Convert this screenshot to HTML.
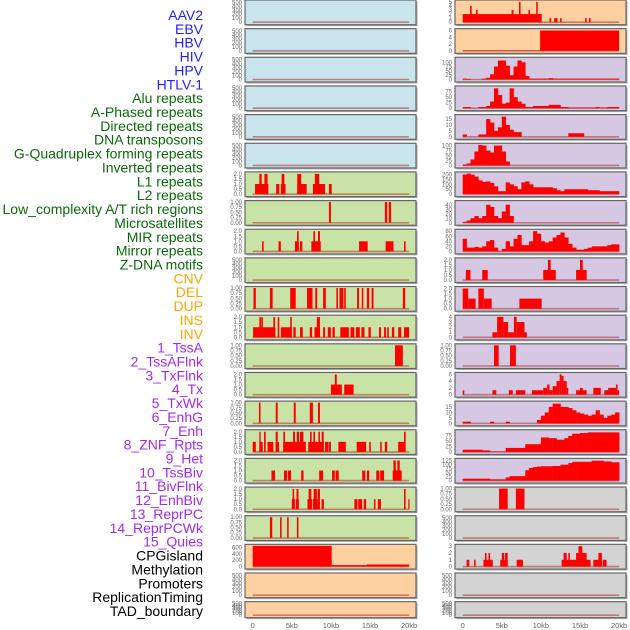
<!DOCTYPE html>
<html><head><meta charset="utf-8"><style>
html,body{margin:0;padding:0;background:#fff;width:630px;height:630px;overflow:hidden}
svg{display:block}
</style></head><body>
<svg id="chart" width="630" height="630" viewBox="0 0 630 630" xmlns="http://www.w3.org/2000/svg"></svg>
<script>
// ---------- labels ----------
const featureLabels = ["AAV2","EBV","HBV","HIV","HPV","HTLV-1","Alu repeats","A-Phased repeats","Directed repeats","DNA transposons","G-Quadruplex forming repeats","Inverted repeats","L1 repeats","L2 repeats","Low_complexity A/T rich regions","Microsatellites","MIR repeats","Mirror repeats","Z-DNA motifs","CNV","DEL","DUP","INS","INV","1_TssA","2_TssAFlnk","3_TxFlnk","4_Tx","5_TxWk","6_EnhG","7_Enh","8_ZNF_Rpts","9_Het","10_TssBiv","11_BivFlnk","12_EnhBiv","13_ReprPC","14_ReprPCWk","15_Quies","CPGisland","Methylation","Promoters","ReplicationTiming","TAD_boundary"];
const xTickValues = [0,5,10,15,20];
const xTickLabels = ["0","5kb","10kb","15kb","20kb"];
// tick sets
const ticks500 = [0,100,200,300,400,500];
const ticks2 = [0,0.5,1,1.5,2];
const ticks1 = [0,0.25,0.5,0.75,1];
// ---------- left column data: segments [startKb, endKb, value] ----------
const L6 = [[0.3,2.0,1],[0.85,1.15,2],[1.5,1.9,2],[3.0,3.4,1],[3.6,4.2,1],[3.7,4.05,2],[5.7,6.9,1],[5.7,6.2,2],[7.7,9.25,1],[7.95,8.5,2],[9.75,10.1,1]];
const L7 = [[9.75,10.0,1],[16.9,17.2,1],[17.4,17.7,1]];
const L8 = [[1.2,1.4,1],[3.3,3.6,1],[5.4,5.9,1],[6.05,6.35,1],[5.67,5.88,2],[7.5,8.0,1],[7.7,8.7,1],[7.76,7.97,2],[8.35,8.6,2],[13.6,14.7,1],[17.0,18.0,1],[19.35,19.55,1]];
const L10 = [[0.1,0.4,1],[2.2,2.55,1],[4.8,5.5,1],[6.95,7.65,1],[8.0,8.25,1],[9.0,9.35,1],[10.7,10.9,1],[11.1,11.6,1],[11.7,11.9,1],[13.35,13.6,1],[13.95,14.15,1],[14.6,14.9,1],[15.2,15.45,1],[19.2,19.5,1]];
const L11 = [[0.05,2.9,1],[3.6,5.0,1],[5.2,5.5,1],[6.05,6.4,1],[7.3,7.6,1],[7.9,8.6,1],[9.0,9.25,1],[9.6,10.0,1],[10.2,10.5,1],[11.2,12.3,1],[12.5,13.0,1],[13.2,13.7,1],[13.9,14.3,1],[14.8,15.1,1],[16.15,16.4,1],[16.8,17.05,1],[17.2,17.4,1],[17.8,18.1,1],[18.6,19.0,1],[19.35,20.0,1],[0.85,1.07,2],[1.1,1.3,2],[2.64,2.86,2],[3.2,3.4,2],[4.8,5.0,2],[8.2,8.6,2]];
const L12 = [[18.2,19.2,1]];
const L13 = [[10.0,11.4,1],[10.5,10.75,2],[11.7,12.9,1]];
const L14 = [[0.8,1.0,1],[2.95,3.2,1],[5.25,5.5,1],[7.3,7.7,1],[8.35,8.6,1]];
const L15 = [[0,0.4,1],[0.85,1.28,1],[1.9,2.64,1],[2.94,3.37,1],[3.9,6.8,1],[7.1,9.1,1],[9.25,9.7,1],[9.76,10.0,1],[10.95,11.9,1],[13.3,14.5,1],[14.9,15.1,1],[16.3,16.5,1],[16.9,17.2,1],[18.6,19.5,1],[0.85,1.02,2],[1.45,1.66,2],[2.94,3.2,2],[3.92,4.13,2],[5.16,5.41,2],[5.63,5.92,2],[6.05,6.48,2],[7.33,7.54,2],[7.76,7.97,2],[8.4,8.6,2],[8.82,9.08,2],[19.35,19.56,2]];
const L16 = [[2.4,2.85,1],[4.0,4.4,1],[4.5,4.9,1],[6.2,6.5,1],[8.5,9.0,1],[10.15,10.5,1],[10.6,11.0,1],[14.0,14.4,1],[14.6,14.9,1],[15.8,16.2,1],[16.3,16.8,1],[17.9,19.05,1],[18.0,18.3,2],[18.5,18.8,2]];
const L17 = [[5.0,5.4,1],[5.1,5.3,2],[5.5,5.9,1],[5.6,5.85,2],[7.0,7.6,1],[7.15,7.5,2],[7.7,8.3,1],[7.8,8.2,2],[8.3,8.6,2],[8.8,9.1,1],[13.0,13.4,1],[13.5,14.0,1],[14.2,14.5,1],[15.5,15.7,1],[16.0,16.4,1],[19.35,19.55,2],[19.9,20.0,1]];
const L18 = [[2.2,2.5,1],[3.5,3.7,1],[4.4,4.6,1],[5.65,5.85,1]];
const L19 = [[0,10.1,650],[10.1,14.6,45],[14.6,20.0,65]];
// ---------- right column data ----------
const R0 = [[0,10.1,2],[0.95,1.15,4],[1.7,1.9,3],[6.25,6.5,3],[7.2,7.4,5],[8.4,8.6,3],[9.4,9.6,5],[11.1,11.3,1],[11.7,12.1,1],[12.45,12.65,1],[15.65,15.85,1],[16.15,16.35,1]];
const R1 = [[0,9.9,0.1],[9.9,20.0,6]];
// 0.5kb bins, 0..20kb
const R2 = [5,3,0,0,0,5,10,30,75,110,110,80,25,75,110,100,20,5,5,5,5,5,8,5,5,5,5,5,5,5,5,5,5,5,5,5,5,5,5,5];
const R3 = [5,5,0,0,5,5,10,30,90,60,20,25,90,50,30,20,5,5,10,10,10,10,15,15,15,5,5,3,3,3,3,3,3,3,5,3,3,5,5,5];
const R4 = [2,0,0,0,2,2,15,12,5,8,17,10,6,4,4,0,0,0,0,0,0,0,0,0,0,0,0,3,3,3,3,0,0,0,0,0,0,0,0,0];
const R5 = [5,10,30,70,103,100,75,65,100,100,70,20,0,0,0,0,0,0,0,0,0,0,0,0,0,0,0,0,0,0,0,0,0,0,0,0,0,0,0,0];
const R6 = [200,210,200,180,140,125,130,115,80,30,30,120,100,80,50,120,130,100,70,70,70,70,70,60,40,30,50,50,50,50,50,50,40,40,40,30,30,30,30,30];
const R7 = [2,5,10,15,10,15,40,35,15,10,25,40,15,0,0,0,0,0,0,0,0,0,0,0,0,0,0,0,0,0,0,0,0,0,0,0,0,0,0,0];
const R8 = [50,15,15,18,15,20,40,45,15,2,10,40,20,50,65,25,25,40,80,70,40,35,40,55,65,75,55,30,15,7,7,10,15,20,20,20,20,25,28,28];
const R9 = [[0.4,1.0,1],[2.5,3.2,1],[10.3,11.9,1],[10.9,11.25,2],[14.5,15.85,1],[15.0,15.35,2]];
const R10 = [[0,0.7,2],[0.7,1.65,1],[2.0,2.7,2],[2.7,3.7,1],[7.25,10.1,1]];
const R11 = [[3.8,4.4,1],[4.4,5.2,4],[5.2,5.8,3],[5.8,6.55,1],[6.55,6.9,4],[6.9,7.9,3],[7.9,8.2,1]];
const R12 = [[4.0,4.6,1],[6.05,6.8,1]];
const R13 = [[0,0.2,1.3],[3.8,4.3,1.3],[5.9,6.4,1.3],[6.8,8.0,1.3],[8.85,10.3,1.3],[10.3,10.8,2],[10.8,11.1,3],[11.1,11.5,1.3],[11.5,12.0,2.5],[12.0,12.4,4],[12.4,12.65,6],[12.65,12.9,5.5],[12.9,13.3,4],[13.3,13.5,2],[14.5,15.85,1.3],[15.0,15.35,2],[16.7,17.65,2],[18.1,20.0,1.3],[18.6,19.6,2],[19.6,19.8,3]];
const R14 = [1.5,1.5,0,0,0,0,0,1.5,0,0,0,1.5,0,0,0,0,0,0,0,3,7,10,15,18,18,15,15,14,12,10,9,8,7,8,12,8,5,7,8,10];
const R15 = [10,10,10,10,10,7,7,2,2,2,2,18,18,18,18,18,35,35,35,35,65,65,62,62,55,55,62,72,82,82,85,85,88,88,88,88,88,88,88,88];
const R16 = [12,12,12,12,12,12,12,8,8,8,8,20,28,28,28,28,65,80,85,88,90,90,90,92,92,100,100,110,118,118,118,118,118,125,125,125,120,120,115,115];
const R17 = [[4.65,5.75,1],[6.8,7.9,1]];
const R19 = [[0.5,0.85,1],[1.45,1.65,1],[2.65,3.85,1],[2.85,3.05,2],[3.3,3.5,2],[4.8,5.75,1],[5.0,5.3,2],[5.4,5.75,2],[6.9,7.7,1],[12.65,16.35,1],[12.9,13.3,2],[13.5,13.7,2],[14.5,15.85,2],[14.8,15.3,3],[16.7,17.8,1],[17.35,17.8,2],[17.9,18.4,1]];

const BLUE="#c9e4ec",GREEN="#c9e2a5",PEACH="#ffd1a1",LAV="#d6c7e3",GRAY="#d3d3d3";
const panels = [];
function P(side,row,bg,ymax,ticks,dec,segs,bins){panels.push({side,row,bg,ymax,ticks,dec,segs,bins});}
// left
for(let r=0;r<6;r++) P('L',r,BLUE,520,ticks500,0,null,null);
P('L',6,GREEN,2.05,ticks2,1,L6,null);
P('L',7,GREEN,1.0,ticks1,2,L7,null);
P('L',8,GREEN,2.05,ticks2,1,L8,null);
P('L',9,GREEN,520,ticks500,0,null,null);
P('L',10,GREEN,1.0,ticks1,2,L10,null);
P('L',11,GREEN,2.05,ticks2,1,L11,null);
P('L',12,GREEN,1.0,ticks1,2,L12,null);
P('L',13,GREEN,2.05,ticks2,1,L13,null);
P('L',14,GREEN,1.0,ticks1,2,L14,null);
P('L',15,GREEN,2.05,ticks2,1,L15,null);
P('L',16,GREEN,2.05,ticks2,1,L16,null);
P('L',17,GREEN,2.05,ticks2,1,L17,null);
P('L',18,GREEN,1.0,ticks1,2,L18,null);
P('L',19,PEACH,650,[0,200,400,600],0,L19,null);
P('L',20,PEACH,520,ticks500,0,null,null);
P('L',21,PEACH,520,ticks500,0,null,null);
// right
P('R',0,PEACH,5.1,[0,1,2,3,4,5],0,R0,null);
P('R',1,PEACH,6.1,[0,2,4,6],0,R1,null);
P('R',2,LAV,120,[0,25,50,75,100],0,null,R2);
P('R',3,LAV,94,[0,25,50,75],0,null,R3);
P('R',4,LAV,17.5,[0,5,10,15],0,null,R4);
P('R',5,LAV,104,[0,25,50,75,100],0,null,R5);
P('R',6,LAV,212,[0,50,100,150,200],0,null,R6);
P('R',7,LAV,46,[0,10,20,30,40],0,null,R7);
P('R',8,LAV,82,[0,20,40,60,80],0,null,R8);
P('R',9,LAV,2.05,ticks2,1,R9,null);
P('R',10,LAV,2.05,ticks2,1,R10,null);
P('R',11,LAV,4.05,[0,1,2,3,4],0,R11,null);
P('R',12,LAV,1.0,ticks1,2,R12,null);
P('R',13,LAV,6.1,[0,2,4,6],0,R13,null);
P('R',14,LAV,19,[0,5,10,15],0,null,R14);
P('R',15,LAV,93,[0,25,50,75],0,null,R15);
P('R',16,LAV,130,[0,25,50,75,100,125],0,null,R16);
P('R',17,GRAY,1.0,ticks1,2,R17,null);
P('R',18,GRAY,520,ticks500,0,null,null);
P('R',19,GRAY,3.05,[0,1,2,3],0,R19,null);
P('R',20,GRAY,520,ticks500,0,null,null);
P('R',21,GRAY,520,ticks500,0,null,null);

const NS="http://www.w3.org/2000/svg";
const svg=document.getElementById('chart');
function mk(tag,attrs,parent){const e=document.createElementNS(NS,tag);for(const k in attrs)e.setAttribute(k,attrs[k]);(parent||svg).appendChild(e);return e;}
const COL={L:{x0:245,x1:416,zero:252.7},R:{x0:455,x1:626,zero:462.7}};
const PXKB=7.82;
function xScale(side,kb){return COL[side].zero+kb*PXKB;}
function rowTop(r){return r*28.65;}
function rowH(r){return r===21?16:24.7;}
function yScale(p,v){const t=rowTop(p.row),h=rowH(p.row);const b=t+h-2.5;return b-(v/p.ymax)*(h-4);}

// labels
const labelColor=i=>i<6?"#1f1fff":i<19?"#0b6a0b":i<24?"#ffa500":i<39?"#a32af0":"#000";
const lg=mk('g',{});


featureLabels.forEach((t,i)=>{
  const e=mk('text',{x:203,y:15+13.86*i+5,'text-anchor':'end','font-family':'Liberation Sans, sans-serif','font-size':'14',fill:labelColor(i)},lg);
  
  
  e.textContent=t;
});

panels.forEach(p=>{
  const c=COL[p.side],t=rowTop(p.row),h=rowH(p.row);
  const g=mk('g',{});
  
  
  mk('rect',{x:c.x0+1.5,y:t+1.5,width:c.x1-c.x0,height:h,fill:'#a8a8a8'},g);
  const bg=mk('rect',{x:c.x0,y:t,width:c.x1-c.x0,height:h,fill:p.bg,stroke:'#666',"stroke-width":1.2},g);
  
  
  // baseline
  const y0=yScale(p,0);
  const bl=mk('line',{x1:xScale(p.side,0),x2:xScale(p.side,20),y1:y0,y2:y0,stroke:'#b03030','stroke-opacity':0.55,'stroke-width':1.6},g);
  
  
  if(p.segs){p.segs.forEach(s=>{
    const x1=xScale(p.side,s[0]),x2=xScale(p.side,s[1]),y=yScale(p,s[2]);
    const r=mk('rect',{x:x1,y:y,width:Math.max(1.2,x2-x1),height:Math.max(0,y0-y),fill:'#ff0000'},g);
    
    
  });}
  if(p.bins){p.bins.forEach((v,i)=>{
    if(v<=0)return;
    const x1=xScale(p.side,i*0.5),x2=xScale(p.side,i*0.5+0.5),y=yScale(p,v);
    const r=mk('rect',{x:x1,y:y,width:x2-x1+0.3,height:y0-y,fill:'#ff0000'},g);
    
    
  });}
  // y ticks
  p.ticks.forEach(v=>{
    const tx=mk('text',{x:c.x0-3,y:yScale(p,v)+2,'text-anchor':'end','font-family':'Liberation Sans, sans-serif','font-size':'6',fill:'#666'},g);
    
    
    tx.textContent=v.toFixed(p.dec);
  });
});

// x axis labels
['L','R'].forEach(side=>{
  xTickValues.forEach((v,i)=>{
    const tx=mk('text',{x:xScale(side,v),y:628,'text-anchor':'middle','font-family':'Liberation Sans, sans-serif','font-size':'7.5',fill:'#666'});
    
    
    tx.textContent=xTickLabels[i];
  });
});
</script>
</body></html>
